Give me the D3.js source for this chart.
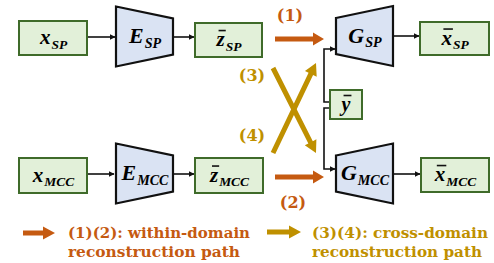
<!DOCTYPE html>
<html><head><meta charset="utf-8">
<script src="https://cdn.jsdelivr.net/npm/d3@7"></script>
<style>body{margin:0;background:#fff}svg{display:block}</style>
</head><body>
<script>
// ---- content ----
const boxLabels = [
  {id:"xSP",  main:"x", sub:"SP",  bar:false},
  {id:"zSP",  main:"z", sub:"SP",  bar:true},
  {id:"xbSP", main:"x", sub:"SP",  bar:true},
  {id:"y",    main:"y", sub:"",    bar:true},
  {id:"xMCC", main:"x", sub:"MCC", bar:false},
  {id:"zMCC", main:"z", sub:"MCC", bar:true},
  {id:"xbMCC",main:"x", sub:"MCC", bar:true}
];
const netLabels = [
  {id:"ESP",  main:"E", sub:"SP",  kind:"enc"},
  {id:"EMCC", main:"E", sub:"MCC", kind:"enc"},
  {id:"GSP",  main:"G", sub:"SP",  kind:"dec"},
  {id:"GMCC", main:"G", sub:"MCC", kind:"dec"}
];
const pathLabels = ["(1)","(2)","(3)","(4)"];
const legendLines = [
  ["(1)(2): within-domain","reconstruction path"],
  ["(3)(4): cross-domain","reconstruction path"]
];
const orange = "#C55A11", gold = "#BF9000";

// ---- layout ----
const W=494,H=263;
const svg=d3.select("body").append("svg").attr("width",W).attr("height",H);
const geom = {
  xSP:[19,21,68,34], zSP:[195,23,67,34], xbSP:[420,22,69,33], y:[330,90,32,29],
  xMCC:[19,158,68,35], zMCC:[195,158,68,35], xbMCC:[421,158,68,34]
};
const tgeom = {
  ESP:[116,173,36.5], EMCC:[116,173,173.5], GSP:[336,393,36], GMCC:[336,393,173.5]
};
const mathFont = "'Liberation Serif', serif";

function mathLabel(g, cx, cy, d, size){
  const t = g.append("text").attr("font-family",mathFont).attr("font-weight","bold")
    .attr("font-style","italic").attr("y",cy+size*0.3);
  const m = t.append("tspan").attr("font-size",size).text(d.main);
  if(d.sub) t.append("tspan").attr("font-size",size*0.64).attr("dy",size*0.22).attr("dx",1).text(d.sub);
  const w = t.node().getComputedTextLength();
  t.attr("x",cx-w/2);
  if(d.bar){
    const mw = m.node().getComputedTextLength();
    const x0 = cx-w/2+1, top = cy - size*0.45;
    g.append("line").attr("x1",x0+1).attr("x2",x0+mw).attr("y1",top).attr("y2",top)
      .attr("stroke","#111").attr("stroke-width",1.6);
  }
}

// thick arrow polygon
function thickArrow(x1,y1,x2,y2,sw,hw,hl,color){
  const dx=x2-x1, dy=y2-y1, L=Math.hypot(dx,dy), ux=dx/L, uy=dy/L, nx=-uy, ny=ux;
  const bx=x2-ux*hl, by=y2-uy*hl;
  const pts=[[x1+nx*sw/2,y1+ny*sw/2],[bx+nx*sw/2,by+ny*sw/2],[bx+nx*hw/2,by+ny*hw/2],[x2,y2],
    [bx-nx*hw/2,by-ny*hw/2],[bx-nx*sw/2,by-ny*sw/2],[x1-nx*sw/2,y1-ny*sw/2]];
  svg.append("polygon").attr("points",pts.map(p=>p.join(",")).join(" ")).attr("fill",color);
}

// black arrow marker
svg.append("defs").append("marker").attr("id","ah").attr("viewBox","0 0 10 10")
  .attr("refX",9).attr("refY",5).attr("markerWidth",6).attr("markerHeight",6)
  .attr("markerUnits","userSpaceOnUse").attr("orient","auto")
  .append("path").attr("d","M0,0L10,5L0,10z").attr("fill","#111");
const line = d3.line();
function blackPath(pts){
  svg.append("path").attr("d",line(pts)).attr("fill","none").attr("stroke","#111")
    .attr("stroke-width",1.6).attr("marker-end","url(#ah)");
}
blackPath([[87,37],[115,37]]);
blackPath([[173,37],[194,37]]);
blackPath([[393,36],[419,36]]);
blackPath([[87,174],[114,174]]);
blackPath([[173,174],[194,174]]);
blackPath([[393,174],[420,174]]);
blackPath([[330,102],[324,102],[324,49],[335,49]]);
blackPath([[330,108],[324,108],[324,169],[335,169]]);

// boxes
const byId = Object.fromEntries(boxLabels.map(d=>[d.id,d]));
Object.entries(geom).forEach(([id,[x,y,w,h]])=>{
  const g=svg.append("g");
  g.append("rect").attr("x",x).attr("y",y).attr("width",w).attr("height",h)
    .attr("fill","#E2F0D9").attr("stroke","#3F6B2A").attr("stroke-width",2);
  mathLabel(g, x+w/2, y+h/2, byId[id], id==="y"?20:21);
});
// trapezoids
const nById = Object.fromEntries(netLabels.map(d=>[d.id,d]));
Object.entries(tgeom).forEach(([id,[xl,xr,cy]])=>{
  const d=nById[id], big=30, small=18;
  const hl = d.kind==="enc"?big:small, hr = d.kind==="enc"?small:big;
  const g=svg.append("g");
  g.append("polygon").attr("points",[[xl,cy-hl],[xr,cy-hr],[xr,cy+hr],[xl,cy+hl]].map(p=>p.join(",")).join(" "))
    .attr("fill","#DAE3F3").attr("stroke","#111").attr("stroke-width",2.2).attr("stroke-linejoin","miter");
  mathLabel(g,(xl+xr)/2,cy,d,22);
});

// coloured paths
thickArrow(275,39,324,39,5,13,11,orange);
thickArrow(275,177,324,177,5,13,11,orange);
thickArrow(273,68,316,153,5,13,12,gold);
thickArrow(273,153,316,63,5,13,12,gold);

const labFont="'DejaVu Serif', serif";
const labPos=[[290,21,orange],[293,208,orange],[252,81,gold],[252,141,gold]];
pathLabels.forEach((t,i)=>{
  svg.append("text").attr("x",labPos[i][0]).attr("y",labPos[i][1]).attr("text-anchor","middle")
    .attr("font-family",labFont).attr("font-weight","bold").attr("font-size",16)
    .attr("fill",labPos[i][2]).text(t);
});

// legend
thickArrow(23,233,55,233,5,13,12,orange);
thickArrow(267,232,301,232,5,13,12,gold);
const legPos=[[68,orange,[182,172]],[312,gold,[176,170]]];
legendLines.forEach((ls,i)=>{
  ls.forEach((s,j)=>{
    svg.append("text").attr("x",legPos[i][0]).attr("y",238+j*18.5)
      .attr("font-family",labFont).attr("font-weight","bold").attr("font-size",15.5)
      .attr("fill",legPos[i][1]).attr("textLength",legPos[i][2][j]).attr("lengthAdjust","spacingAndGlyphs").text(s);
  });
});
</script>
</body></html>
